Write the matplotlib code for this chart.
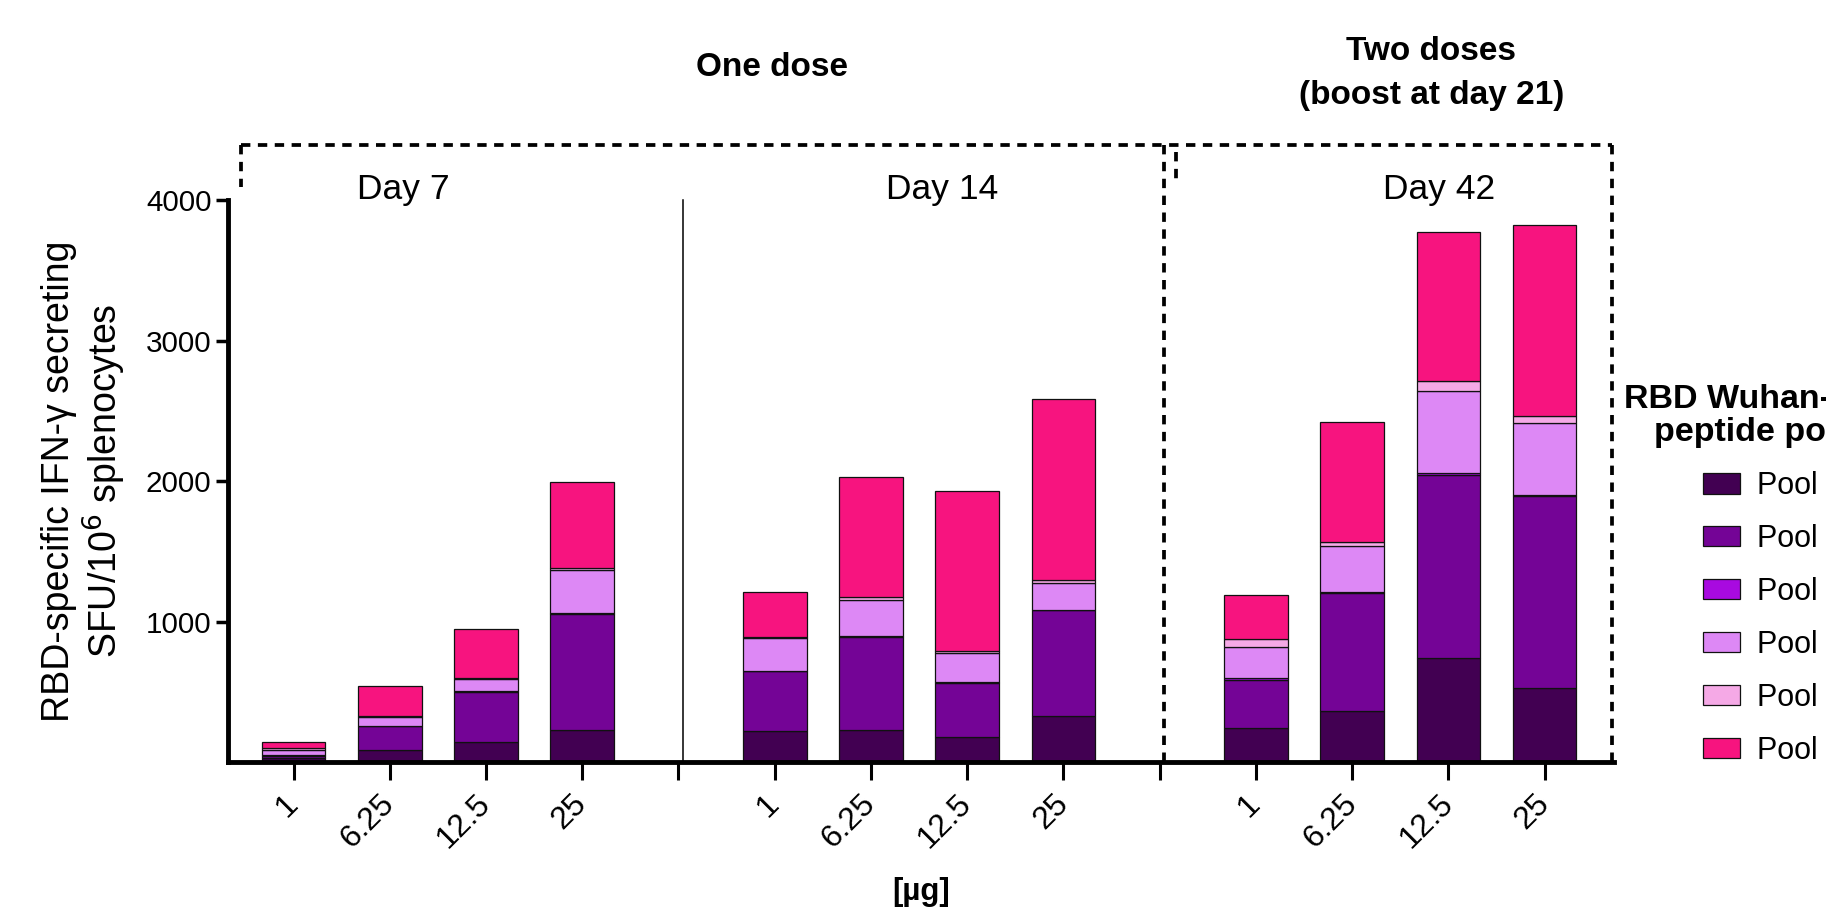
import numpy as np
import matplotlib
matplotlib.use("Agg")
import matplotlib.pyplot as plt

plt.rcParams['font.family'] = ['Liberation Sans', 'DejaVu Sans']

# doses per group, three time points
doses = ["1", "6.25", "12.5", "25"]
groups = ["Day 7", "Day 14", "Day 42"]
pools = ["Pool 1", "Pool 2", "Pool 3", "Pool 4", "Pool 5", "Pool 6"]

# SFU/10^6 splenocytes per pool (Day 7 x4, Day 14 x4, Day 42 x4)
pool1 = [30, 85, 142, 227, 220, 225, 178, 325, 239, 363, 739, 526]
pool2 = [14, 171, 358, 827, 427, 668, 386, 756, 344, 843, 1301, 1367]
pool3 = [7, 2, 3, 4, 3, 4, 3, 4, 14, 4, 15, 10]
pool4 = [35, 64, 85, 307, 236, 257, 208, 188, 221, 326, 584, 513]
pool5 = [12, 4, 7, 14, 7, 17, 12, 21, 61, 28, 74, 47]
pool6 = [41, 214, 353, 616, 320, 857, 1140, 1290, 311, 854, 1059, 1356]

colors = ['#420052', '#740496', '#A80AE0', '#DD88F5', '#F5A9E6', '#F7147F']

fig = plt.figure(figsize=(18.26, 9.08), dpi=100)
ax = fig.add_axes([0.1249, 0.1608, 0.7590, 0.6189])

xpos = np.array([g * 5 + i for g in range(len(groups)) for i in range(len(doses))])
bottom = np.zeros(len(xpos))
handles = []
for vals, col, lab in zip([pool1, pool2, pool3, pool4, pool5, pool6], colors, pools):
    b = ax.bar(xpos, vals, width=0.66, bottom=bottom, color=col,
               edgecolor='#111111', linewidth=0.9, label=lab, zorder=2)
    handles.append(b)
    bottom += np.array(vals)

ax.set_xlim(-0.68, 13.72)
ax.set_ylim(0, 4000)
ax.set_yticks([1000, 2000, 3000, 4000])
ticks = list(range(14))
labels = []
for t in ticks:
    if t % 5 == 4:
        labels.append("")
    else:
        labels.append(doses[t % 5])
ax.set_xticks(ticks)
ax.set_xticklabels(labels, rotation=45, ha='right', va='center',
                   rotation_mode='anchor')

for s in ['top', 'right']:
    ax.spines[s].set_visible(False)
for s in ['left', 'bottom']:
    ax.spines[s].set_linewidth(3.5)
ax.tick_params(axis='y', length=9, width=2.5, labelsize=21.3, pad=3)
ax.tick_params(axis='x', length=13, width=2.2, labelsize=23, pad=14)

ax.set_ylabel("RBD-specific IFN-γ secreting\nSFU/10$^6$ splenocytes",
              fontsize=27, linespacing=1.1, labelpad=13)
ax.set_xlabel("[µg]", fontsize=22.5, fontweight='bold', va='top')
ax.xaxis.set_label_coords(0.5, -0.204)

# thin separator between Day 7 and Day 14
ax.plot([4.05, 4.05], [0, 4000], color='black', lw=1.1, clip_on=False)

# dashed boxes
dash = dict(color='black', lw=2.7, linestyle=(0, (2.5, 2)), clip_on=False)
ax.plot([-0.545, 13.70], [4395, 4395], **dash)
ax.plot([-0.545, -0.545], [4395, 4090], **dash)
ax.plot([9.04, 9.04], [4395, 0], **dash)
ax.plot([9.17, 9.17], [4339, 4125], **dash)
ax.plot([13.70, 13.70], [4395, 0], **dash)

# group labels
ax.text(1.14, 4075, groups[0], fontsize=25.5, ha='center', va='center')
ax.text(6.74, 4075, groups[1], fontsize=25.5, ha='center', va='center')
ax.text(11.9, 4075, groups[2], fontsize=25.5, ha='center', va='center')
ax.text(4.97, 4940, "One dose", fontsize=24, fontweight='bold',
        ha='center', va='center', clip_on=False)
ax.text(11.82, 4900, "Two doses\n(boost at day 21)", fontsize=24,
        fontweight='bold', ha='center', va='center', linespacing=1.55,
        clip_on=False)

# legend, title drawn separately
fig.text(1765 / 1826, 1 - 416 / 908, "RBD Wuhan-Hu-1\npeptide pools",
         fontsize=24.5, fontweight='bold', ha='center', va='center',
         multialignment='center', linespacing=1.12)
leg = fig.legend(handles=handles, labels=pools, loc='upper left',
                 bbox_to_anchor=(1703 / 1826, 1 - 471 / 908),
                 frameon=False, borderpad=0, borderaxespad=0, fontsize=22,
                 handlelength=1.22, handleheight=0.66, handletextpad=0.55,
                 labelspacing=0.75)

fig.savefig('out.png', dpi=100)
